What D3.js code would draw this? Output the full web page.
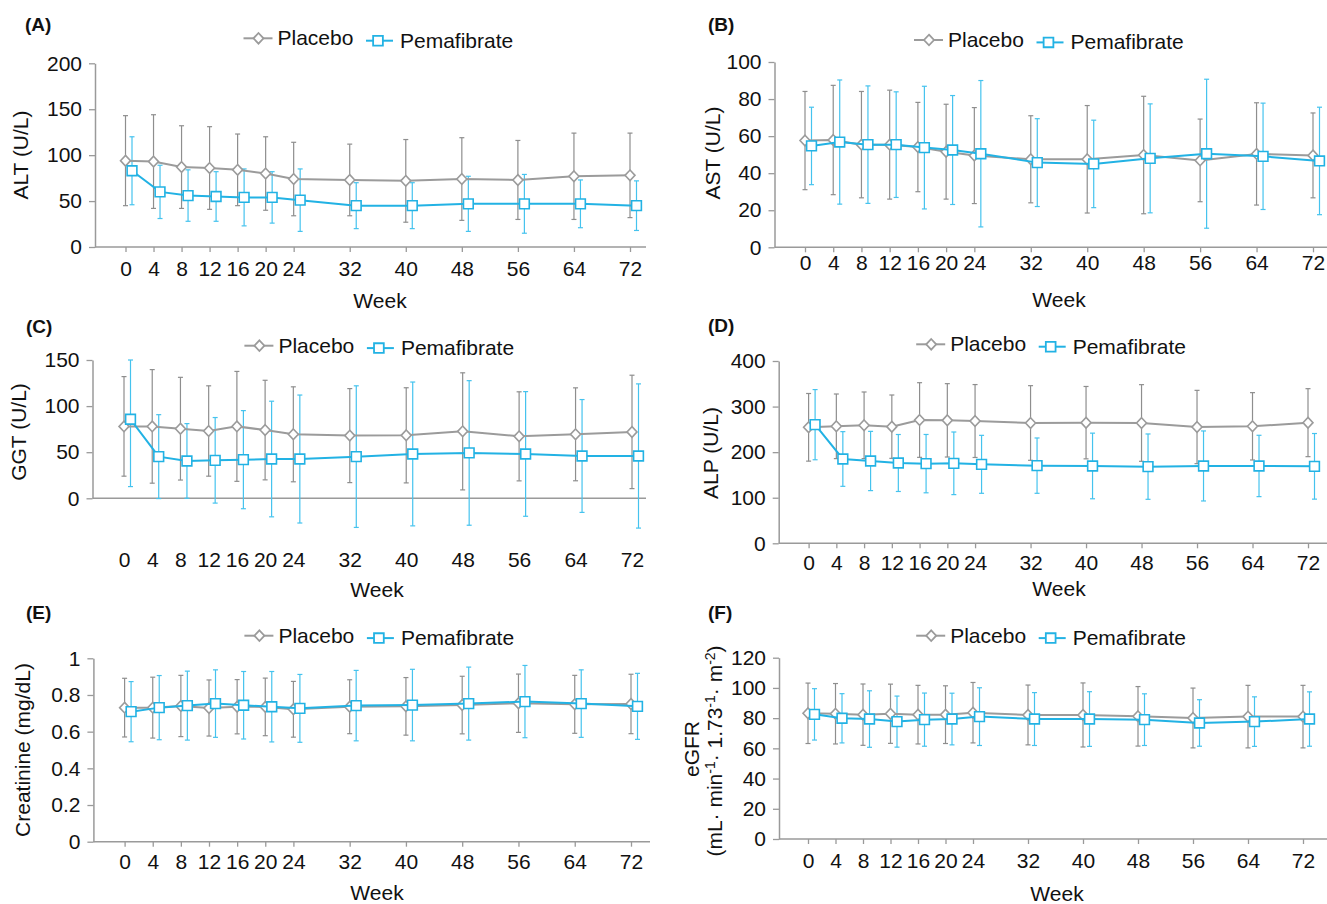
<!DOCTYPE html>
<html>
<head>
<meta charset="utf-8">
<script src="https://cdn.jsdelivr.net/npm/d3@7"></script>
<style>
  body { margin: 0; background: #fff; }
  svg text { font-family: "Liberation Sans", Arial, sans-serif; fill: #111; }
</style>
</head>
<body>
<svg id="canvas" width="1327" height="904"></svg>
<script>
// weeks shared by every panel
let weeks = [0, 4, 8, 12, 16, 20, 24, 32, 40, 48, 56, 64, 72]

// (A) ALT
let altPlaceboMean = [94, 93, 87, 86, 84, 80, 74, 73, 72, 74, 73, 77, 78]
let altPlaceboSd = [49, 51, 45, 45, 39, 40, 40, 39, 45, 45, 43, 47, 46]
let altPemaMean = [83, 60, 56, 55, 54, 54, 51, 45, 45, 47, 47, 47, 45]
let altPemaSd = [37, 29, 28, 27, 31, 28, 34, 25, 25, 30, 32, 26, 27]
let altTicks = [0, 50, 100, 150, 200]

// (B) AST
let astPlaceboMean = [57.6, 57.9, 55.4, 55.4, 54.1, 51.6, 49.5, 47.5, 47.5, 49.8, 46.9, 50.4, 49.6]
let astPlaceboSd = [26.5, 29.5, 28.7, 29.4, 24.1, 25.6, 25.9, 23.5, 29, 31.7, 22.3, 27.6, 22.9]
let astPemaMean = [54.7, 56.8, 55.4, 55.4, 53.8, 52.5, 50.5, 45.7, 45.0, 48.0, 50.5, 49.1, 46.6]
let astPemaSd = [20.9, 33.5, 31.7, 28.5, 33.1, 29.4, 39.5, 23.7, 23.6, 29.4, 40.2, 28.7, 29]
let astTicks = [0, 20, 40, 60, 80, 100]

// (C) GGT
let ggtPlaceboMean = [78, 78, 75.5, 73, 78, 74, 69.4, 68, 68.3, 72.6, 67.2, 69.4, 72]
let ggtPlaceboSd = [54, 61.6, 55.7, 49, 59.6, 54, 51.5, 51, 51.6, 63.5, 48.3, 50.4, 61.5]
let ggtPemaMean = [85.7, 45.2, 40.5, 41.2, 41.9, 42.6, 42.6, 45.2, 48.1, 49.2, 48.1, 45.9, 45.9]
let ggtPemaSd = [73, 45.5, 40.5, 46.4, 53.2, 62.7, 69.4, 76.8, 78, 78.4, 67.6, 61.2, 78.2]
let ggtTicks = [0, 50, 100, 150]

// (D) ALP
let alpPlaceboMean = [254.5, 256.7, 258.9, 255.9, 270.5, 269.8, 268.3, 264, 264.7, 264, 255.2, 256.7, 264.7]
let alpPlaceboSd = [74.2, 70.9, 73.1, 69.5, 81.9, 80.5, 80, 81.9, 79.4, 84.1, 80.4, 73.9, 74.6]
let alpPemaMean = [260.3, 185, 180.6, 176.2, 174.8, 175.5, 173.3, 170.4, 169.7, 168.2, 169.7, 169.7, 168.9]
let alpPemaSd = [77, 60, 65, 62.5, 64, 68.7, 63.6, 60.7, 72, 71.7, 76.8, 67.3, 72]
let alpTicks = [0, 100, 200, 300, 400]

// (E) Creatinine
let creaPlaceboMean = [0.731, 0.731, 0.740, 0.729, 0.736, 0.735, 0.722, 0.736, 0.738, 0.745, 0.755, 0.749, 0.751]
let creaPlaceboSd = [0.16, 0.166, 0.167, 0.153, 0.148, 0.157, 0.152, 0.147, 0.157, 0.157, 0.159, 0.158, 0.162]
let creaPemaMean = [0.709, 0.731, 0.742, 0.753, 0.744, 0.736, 0.727, 0.742, 0.745, 0.753, 0.764, 0.753, 0.738]
let creaPemaSd = [0.164, 0.175, 0.188, 0.184, 0.184, 0.192, 0.185, 0.192, 0.195, 0.199, 0.197, 0.184, 0.18]
let creaTicks = [0, 0.2, 0.4, 0.6, 0.8, 1]

// (F) eGFR
let egfrPlaceboMean = [83.2, 82.9, 82.3, 82.9, 82.3, 82.3, 83.6, 82.1, 82.1, 81.2, 80.1, 81.0, 81.0]
let egfrPlaceboSd = [20, 20, 20.3, 19.6, 19.4, 19.1, 20, 19.8, 21.2, 19.7, 19.8, 20.7, 20.7]
let egfrPemaMean = [82.5, 79.9, 79.4, 77.7, 79.0, 79.4, 81.0, 79.4, 79.4, 79.0, 76.8, 77.7, 79.4]
let egfrPemaSd = [17, 16.3, 18.7, 16.9, 17.6, 17.1, 19.1, 17.5, 18.1, 17.1, 15.4, 16.4, 18]
let egfrTicks = [0, 20, 40, 60, 80, 100, 120]

let seriesNames = ['Placebo', 'Pemafibrate']

let grey = '#9b9b9b'
let greyBar = '#8e8e8e'
let cyan = '#22b2e4'
let cyanBar = '#45c3ee'
let axisCol = '#9a9a9a'
let dodge = 6.5
let fs = 21

let panels = [
  { tag: '(A)', title: ['ALT (U/L)'], pm: altPlaceboMean, ps: altPlaceboSd, qm: altPemaMean, qs: altPemaSd, ticks: altTicks,
    ax: 95, w0: 125.5, w72: 630, top: 63.3, bot: 247, xEnd: 646, xTick: 5, lblY: 269, weekX: 380, weekY: 301,
    titleX: 21, titleY: 155, tagX: 25, tagY: 25, legDx: 0, legDy: 0 },
  { tag: '(B)', title: ['AST (U/L)'], pm: astPlaceboMean, ps: astPlaceboSd, qm: astPemaMean, qs: astPemaSd, ticks: astTicks,
    ax: 774.5, w0: 805, w72: 1313, top: 62, bot: 247.3, xEnd: 1327, xTick: 5, lblY: 263, weekX: 1059, weekY: 300,
    titleX: 713, titleY: 153, tagX: 708, tagY: 25, legDx: 670.5, legDy: 1.7 },
  { tag: '(C)', title: ['GGT (U/L)'], pm: ggtPlaceboMean, ps: ggtPlaceboSd, qm: ggtPemaMean, qs: ggtPemaSd, ticks: ggtTicks,
    ax: 92.5, w0: 124, w72: 632, top: 360, bot: 498.3, xEnd: 646, xTick: 0, lblY: 560, weekX: 377, weekY: 590,
    titleX: 19, titleY: 432, tagX: 26, tagY: 327, legDx: 0.9, legDy: 307.4 },
  { tag: '(D)', title: ['ALP (U/L)'], pm: alpPlaceboMean, ps: alpPlaceboSd, qm: alpPemaMean, qs: alpPemaSd, ticks: alpTicks,
    ax: 778.7, w0: 808.6, w72: 1308, top: 361, bot: 543.3, xEnd: 1327, xTick: 5, lblY: 563, weekX: 1059, weekY: 589,
    titleX: 710.5, titleY: 453, tagX: 708, tagY: 326, legDx: 672.7, legDy: 306 },
  { tag: '(E)', title: ['Creatinine (mg/dL)'], pm: creaPlaceboMean, ps: creaPlaceboSd, qm: creaPemaMean, qs: creaPemaSd, ticks: creaTicks,
    ax: 93.4, w0: 124.6, w72: 631, top: 658.3, bot: 841.7, xEnd: 650, xTick: 5, lblY: 862, weekX: 377, weekY: 893,
    titleX: 23, titleY: 750, tagX: 26, tagY: 613, legDx: 0.9, legDy: 597.4 },
  { tag: '(F)', title: ['eGFR', 'egfrUnit'], pm: egfrPlaceboMean, ps: egfrPlaceboSd, qm: egfrPemaMean, qs: egfrPemaSd, ticks: egfrTicks,
    ax: 779, w0: 808, w72: 1303, top: 657.7, bot: 839, xEnd: 1327, xTick: 5, lblY: 861, weekX: 1057, weekY: 894,
    titleX: 692, titleY: 749, tagX: 708, tagY: 613, legDx: 672.7, legDy: 597.4 }
]

let svg = d3.select('#canvas')

// rhombus a bit wider than d3's own diamond, like the source figure
let diamond = 'M0,-5.3L5,0L0,5.3L-5,0Z'
let square = d3.symbol().type(d3.symbolSquare).size(95)

let drawPanel = (p) => {
  let g = svg.append('g')
  let x = d3.scaleLinear().domain([0, 72]).range([p.w0, p.w72])
  let y = d3.scaleLinear().domain([0, d3.max(p.ticks)]).range([p.bot, p.top])
  let yMax = d3.max(p.ticks)

  // axes
  g.append('line')
    .attr('x1', p.ax).attr('x2', p.xEnd)
    .attr('y1', p.bot).attr('y2', p.bot)
    .attr('stroke', axisCol).attr('stroke-width', 1.5)

  let xAxis = g.append('g')
    .attr('transform', 'translate(0,' + p.bot + ')')
    .call(d3.axisBottom(x).tickValues(weeks).tickSize(p.xTick).tickPadding(p.lblY - p.bot - p.xTick - 7.5))
  xAxis.select('.domain').remove()

  let yAxis = g.append('g')
    .attr('transform', 'translate(' + p.ax + ',0)')
    .call(d3.axisLeft(y).tickValues(p.ticks).tickSize(6).tickPadding(7).tickSizeOuter(0).tickFormat(d3.format('~g')))

  g.selectAll('.tick line').attr('stroke', axisCol).attr('stroke-width', 1.3)
  yAxis.select('.domain').attr('stroke', axisCol).attr('stroke-width', 1.5)
  g.selectAll('.tick text')
    .attr('font-size', fs)
    .attr('fill', '#111')
    .style('font-family', '"Liberation Sans", Arial, sans-serif')

  // error bars, lines, markers
  let series = [
    { mean: p.pm, sd: p.ps, off: 0, col: grey, bar: greyBar, sym: diamond },
    { mean: p.qm, sd: p.qs, off: dodge, col: cyan, bar: cyanBar, sym: square }
  ]

  series.forEach((s) => {
    let rows = weeks.map((w, i) => ({ w: w, m: s.mean[i], sd: s.sd[i] }))
    let eb = g.append('g')
    eb.selectAll('line.v').data(rows).enter().append('line')
      .attr('x1', d => x(d.w) + s.off).attr('x2', d => x(d.w) + s.off)
      .attr('y1', d => y(Math.min(d.m + d.sd, yMax))).attr('y2', d => y(d.m - d.sd))
      .attr('stroke', s.bar).attr('stroke-width', 1.2)
    eb.selectAll('line.top').data(rows).enter().append('line')
      .attr('x1', d => x(d.w) + s.off - 2.5).attr('x2', d => x(d.w) + s.off + 2.5)
      .attr('y1', d => y(Math.min(d.m + d.sd, yMax))).attr('y2', d => y(Math.min(d.m + d.sd, yMax)))
      .attr('stroke', s.bar).attr('stroke-width', 1.2)
    eb.selectAll('line.bot').data(rows).enter().append('line')
      .attr('x1', d => x(d.w) + s.off - 2.5).attr('x2', d => x(d.w) + s.off + 2.5)
      .attr('y1', d => y(d.m - d.sd)).attr('y2', d => y(d.m - d.sd))
      .attr('stroke', s.bar).attr('stroke-width', 1.2)
  })

  series.forEach((s) => {
    let rows = weeks.map((w, i) => ({ w: w, m: s.mean[i] }))
    g.append('path')
      .datum(rows)
      .attr('fill', 'none')
      .attr('stroke', s.col)
      .attr('stroke-width', 2)
      .attr('d', d3.line().x(d => x(d.w) + s.off).y(d => y(d.m)))
    g.selectAll(null).data(rows).enter().append('path')
      .attr('d', s.sym)
      .attr('transform', d => 'translate(' + (x(d.w) + s.off) + ',' + y(d.m) + ')')
      .attr('fill', '#fff')
      .attr('stroke', s.col)
      .attr('stroke-width', 1.6)
  })

  // legend
  let leg = [
    { name: seriesNames[0], mx: 258.5 + p.legDx, my: 38.3 + p.legDy, l0: -15, l1: 14, tx: 19, col: grey, sym: diamond },
    { name: seriesNames[1], mx: 378 + p.legDx, my: 40.7 + p.legDy, l0: -12, l1: 15, tx: 22, col: cyan, sym: square }
  ]
  leg.forEach((l) => {
    g.append('line')
      .attr('x1', l.mx + l.l0).attr('x2', l.mx + l.l1)
      .attr('y1', l.my).attr('y2', l.my)
      .attr('stroke', l.col).attr('stroke-width', 2)
    g.append('path')
      .attr('d', l.sym)
      .attr('transform', 'translate(' + l.mx + ',' + l.my + ')')
      .attr('fill', '#fff').attr('stroke', l.col).attr('stroke-width', 1.8)
    g.append('text')
      .attr('x', l.mx + l.tx).attr('y', l.my + 7)
      .attr('font-size', fs)
      .text(l.name)
  })

  // labels
  g.append('text')
    .attr('x', p.tagX).attr('y', p.tagY + 6)
    .attr('font-size', 19).attr('font-weight', 'bold')
    .text(p.tag)

  g.append('text')
    .attr('x', p.weekX).attr('y', p.weekY + 7)
    .attr('text-anchor', 'middle')
    .attr('font-size', fs)
    .text('Week')

  g.append('text')
    .attr('transform', 'translate(' + (p.titleX + 7) + ',' + p.titleY + ') rotate(-90)')
    .attr('text-anchor', 'middle')
    .attr('font-size', fs)
    .text(p.title[0])

  if (p.title.length > 1) {
    let t = g.append('text')
      .attr('transform', 'translate(' + (p.titleX + 30) + ',' + (p.titleY + 2) + ') rotate(-90)')
      .attr('text-anchor', 'middle')
      .attr('font-size', fs)
    let parts = [['(mL· min', 0], ['-1', 1], ['· 1.73', 0], ['-1', 1], ['· m', 0], ['-2', 1], [')', 0]]
    let prev = 0
    parts.forEach((pt) => {
      let shift = pt[1] ? -7 : 0
      t.append('tspan')
        .attr('dy', shift - prev)
        .attr('font-size', pt[1] ? 14 : fs)
        .text(pt[0])
      prev = shift
    })
  }
}

panels.forEach(drawPanel)
</script>
</body>
</html>
